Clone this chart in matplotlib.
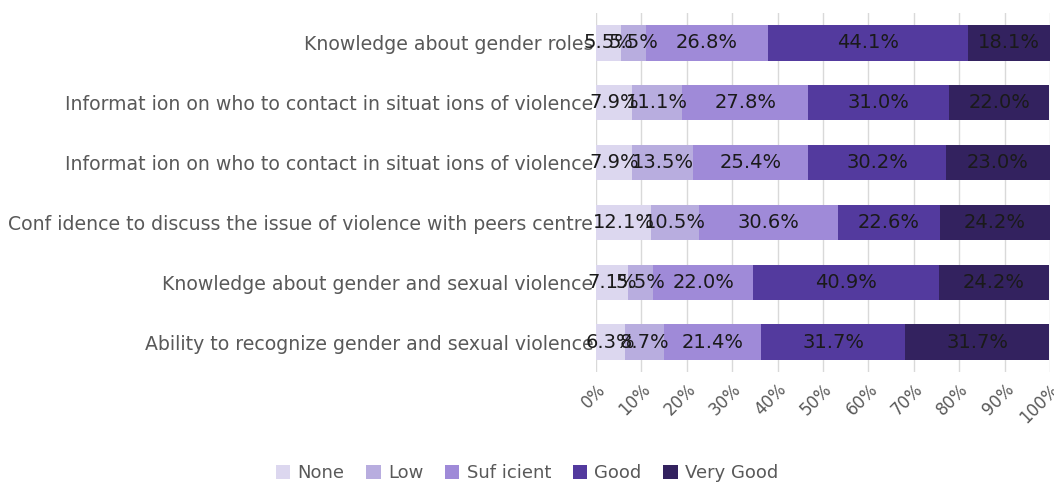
import numpy as np
from matplotlib import pyplot as plt

# categorias (de cima para baixo) e porcentagens de cada nivel
itens = [
    'Knowledge about gender roles',
    'Informat ion on who to contact in situat ions of violence',
    'Informat ion on who to contact in situat ions of violence',
    'Conf idence to discuss the issue of violence with peers centre',
    'Knowledge about gender and sexual violence',
    'Ability to recognize gender and sexual violence',
]
niveis = ['None', 'Low', 'Suf icient', 'Good', 'Very Good']
none_pct = [5.5, 7.9, 7.9, 12.1, 7.1, 6.3]
low_pct = [5.5, 11.1, 13.5, 10.5, 5.5, 8.7]
suf_pct = [26.8, 27.8, 25.4, 30.6, 22.0, 21.4]
good_pct = [44.1, 31.0, 30.2, 22.6, 40.9, 31.7]
vgood_pct = [18.1, 22.0, 23.0, 24.2, 24.2, 31.7]
cores = ['#dcd7ef', '#b8addf', '#9f8ad8', '#533a9e', '#33225f']

series = [none_pct, low_pct, suf_pct, good_pct, vgood_pct]

fig = plt.figure(figsize=(10.54, 4.84), dpi=100)
ax = fig.add_axes([0.5655, 0.2314, 0.4307, 0.7416])

y = np.arange(len(itens))
esquerda = np.zeros(len(itens))
for nome, vals, cor in zip(niveis, series, cores):
    vals = np.array(vals)
    ax.barh(y, vals, left=esquerda, height=0.59, color=cor, label=nome, zorder=2)
    for yi, xi, v in zip(y, esquerda + vals / 2, vals):
        ax.text(xi, yi, '{:.1f}%'.format(v), ha='center', va='center',
                fontsize=14, color='#1a1a1a', zorder=3)
    esquerda += vals

ax.set_ylim(len(itens) - 0.5, -0.5)
ax.set_xlim(0, 100)
ax.set_yticks(y)
ax.set_yticklabels(itens, fontsize=13.6, color='#595959')
ax.set_xticks(np.arange(0, 101, 10))
ax.set_xticklabels(['{}%'.format(t) for t in range(0, 101, 10)], rotation=45,
                   ha='right', va='top', rotation_mode='anchor',
                   fontsize=12, color='#595959')
ax.tick_params(axis='both', length=0, pad=2)
ax.tick_params(axis='x', pad=6)
ax.grid(axis='x', color='#d9d9d9', linewidth=1, zorder=0)
for s in ax.spines.values():
    s.set_visible(False)

fig.legend(loc='lower center', bbox_to_anchor=(0.5, -0.03), ncol=5, frameon=False,
           fontsize=13, handlelength=0.8, handleheight=0.8, handletextpad=0.4,
           columnspacing=1.2, labelcolor='#595959')

plt.savefig('out.png', dpi=100)
